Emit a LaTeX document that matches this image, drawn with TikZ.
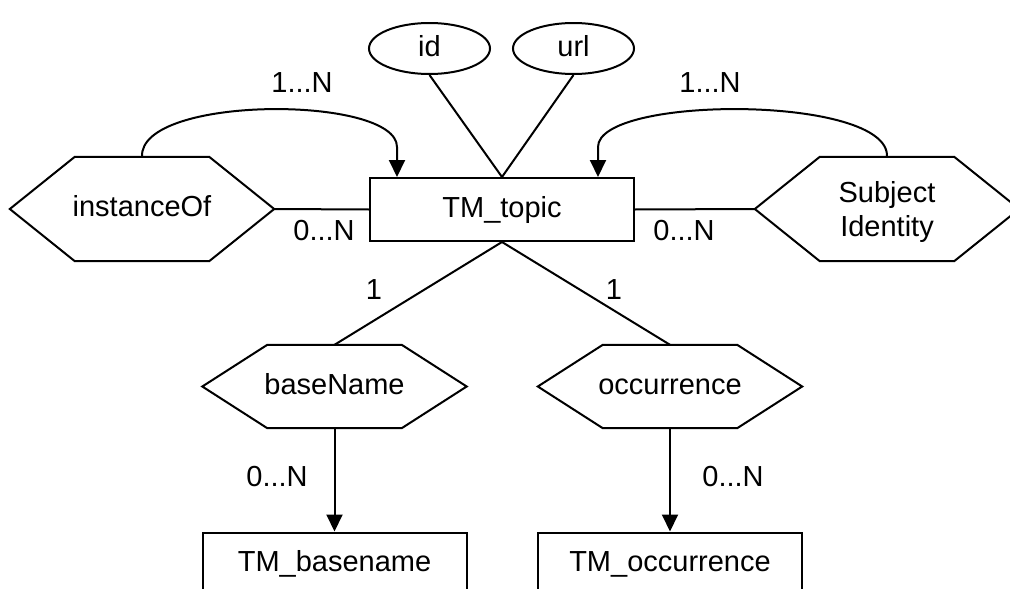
\documentclass[tikz,border=0pt]{standalone}
\usepackage{fontspec}
\setmainfont{Liberation Sans}
\usetikzlibrary{arrows.meta,shapes.geometric}

% hexagonal relationship outline drawn round an invisible box node
\newcommand\hexoutline[1]{%
  \draw[edge,line join=miter] (#1.west) -- ([xshift=65pt]#1.north west)
    -- ([xshift=-65pt]#1.north east) -- (#1.east)
    -- ([xshift=-65pt]#1.south east) -- ([xshift=65pt]#1.south west) -- cycle;}

\begin{document}
\begin{tikzpicture}[x=1pt,y=-1pt,
  every node/.style={font=\fontsize{29}{35}\selectfont, inner sep=0pt},
  boxtext/.style={text height=22pt, text depth=7pt},
  edge/.style={line width=2pt},
  arr/.style={edge,-{Triangle[length=17pt,width=16pt]}},
  hexbox/.style={rectangle, boxtext, minimum width=264pt, minimum height=#1},
  entity/.style={rectangle, boxtext, draw, line width=2pt, minimum width=264pt, minimum height=63pt},
  attr/.style={ellipse, boxtext, draw, line width=2pt, minimum width=121pt, minimum height=51pt}]

\useasboundingbox (0,0) rectangle (1010,589);
\clip (0,0) rectangle (1010,589);

% entities
\node[entity] (topic) at (502,209.5) {TM\_topic};
\node[entity] (tbn)   at (334.5,564) {TM\_basename};
\node[entity] (tocc)  at (670,564) {TM\_occurrence};

% attributes
\node[attr] (id)  at (429.5,48.5) {id};
\node[attr] (url) at (573.5,48.5) {url};

% relationships
\node[hexbox=104pt] (inst) at (142,209) {instanceOf};
\node[rectangle, minimum width=264pt, minimum height=104pt,
      label={[align=center,yshift=-3pt]center:{Subject\\Identity}}] (subj) at (887,209) {};
\node[hexbox=83pt] (bn)  at (334.5,386.5) {baseName};
\node[hexbox=83pt] (occ) at (670,386.5) {occurrence};
\hexoutline{inst}
\hexoutline{subj}
\hexoutline{bn}
\hexoutline{occ}

% connectors
\draw[edge] (inst.east) -- (topic.west);
\draw[edge] (topic.east) -- (subj.west);
\draw[edge] (id.south) -- (topic.north);
\draw[edge] (url.south) -- (topic.north);
\draw[edge] (topic.south) -- (bn.north);
\draw[edge] (topic.south) -- (occ.north);
\draw[arr] (bn.south) -- (tbn.north);
\draw[arr] (occ.south) -- (tocc.north);

\coordinate (tinL) at ([xshift=28pt]topic.north west);
\coordinate (tinR) at ([xshift=-37pt]topic.north east);
\draw[arr] (inst.north) .. controls +(-3,-62) and +(0,-52) .. ([yshift=30pt]tinL) -- (tinL);
\draw[arr] (subj.north) .. controls +(3,-62) and +(0,-52) .. ([yshift=30pt]tinR) -- (tinR);

% cardinalities
\node (cInstTop) at (302,83) {1...N};
\node (cSubjTop) at (710,83) {1...N};
\node (cInst)    at (324,231) {0...N};
\node (cSubj)    at (684,231) {0...N};
\node (cBnTop)   at (374,290) {1};
\node (cOccTop)  at (614,290) {1};
\node (cBn)      at (277,477) {0...N};
\node (cOcc)     at (733,477) {0...N};
\end{tikzpicture}
\end{document}
